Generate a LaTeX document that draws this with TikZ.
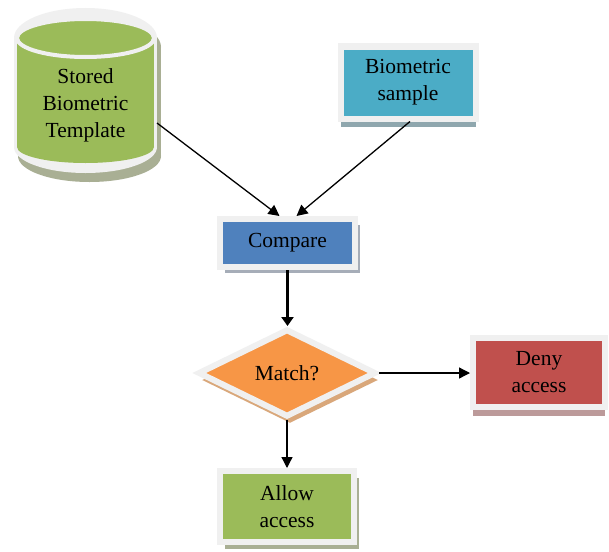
\documentclass[tikz,border=0pt]{standalone}
\usepackage{fontspec}
\setmainfont{Liberation Serif}
\usetikzlibrary{shapes.geometric,arrows.meta,shadows}
\definecolor{rim}{HTML}{F0F0F0}
\definecolor{cgreen}{HTML}{9BBB59}
\definecolor{cteal}{HTML}{4BACC6}
\definecolor{cblue}{HTML}{4F81BD}
\definecolor{corange}{HTML}{F79646}
\definecolor{cred}{HTML}{C0504D}
\definecolor{shteal}{HTML}{8FA7AE}
\definecolor{shblue}{HTML}{A6ADB8}
\definecolor{shred}{HTML}{BC9A9A}
\definecolor{shgreen}{HTML}{A9AF94}
\definecolor{shorange}{HTML}{D9A77A}
\begin{document}
\begin{tikzpicture}[x=1pt,y=-1pt,
  lbl/.style={font=\fontsize{21.5}{27}\selectfont, text=black, align=center},
  box/.style={lbl, rectangle, fill=#1, draw=rim, line width=6pt, inner sep=0pt},
  shad/.style n args={3}{drop shadow={shadow xshift=#1, shadow yshift=#2, fill=#3, opacity=1}},
  conn/.style={draw=black, line width=1.3pt, -{Triangle[length=11pt,width=11pt]}},
  thickconn/.style={draw=black, line width=3pt, -{Triangle[length=9pt,width=12pt]}}
]
\useasboundingbox (0,0) rectangle (609,551);
\fill[white] (0,0) rectangle (609,551);

% cylinder: shadow
\begin{scope}[shift={(4,9)}]
  \fill[shgreen] (85.5,38) ellipse [x radius=71.5, y radius=30];
  \fill[shgreen] (14,38) rectangle (157,147);
  \fill[shgreen] (85.5,147) ellipse [x radius=71.5, y radius=26];
\end{scope}
% cylinder: rim
\fill[rim] (85.5,38) ellipse [x radius=71.5, y radius=30];
\fill[rim] (14,38) rectangle (157,147);
\fill[rim] (85.5,147) ellipse [x radius=71.5, y radius=26];
% cylinder: body
\fill[cgreen] (85.5,38) ellipse [x radius=68.5, y radius=19];
\fill[cgreen] (17,38) rectangle (154,147);
\fill[cgreen] (85.5,147) ellipse [x radius=68.5, y radius=16];
\draw[rim, line width=4pt] (85.5,38) ellipse [x radius=68.5, y radius=19];
\node[lbl] (cyl) at (85.5,105) {Stored\\Biometric\\Template};
\coordinate (cylR) at (157,123);

% boxes
\node[box=cteal, minimum width=135pt, minimum height=72pt, shad={0pt}{-8pt}{shteal}] (sample) at (408,82.5) {Biometric\\sample};
\node[box=cblue, minimum width=135pt, minimum height=48pt, shad={5pt}{-6pt}{shblue}] (compare) at (287.5,243) {Compare};
\node[lbl, diamond, fill=corange, draw=rim, line width=6pt, inner sep=0pt, minimum width=178pt, minimum height=88pt, shad={3pt}{-7pt}{shorange}] (match) at (287,373) {Match?};
\node[box=cred, minimum width=132pt, minimum height=69pt, shad={0pt}{-9pt}{shred}] (deny) at (539,372.5) {Deny\\access};
\node[box=cgreen, minimum width=134pt, minimum height=71pt, shad={5pt}{-7pt}{shgreen}] (allow) at (287,506.5) {Allow\\access};

% connectors
\draw[conn] (cylR) -- ([xshift=-8pt]compare.north);
\draw[conn] ([xshift=2pt]sample.south) -- ([xshift=9pt]compare.north);
\draw[thickconn] (compare.south) -- (compare.south |- match.north);
\draw[conn] (match.east) -- (match.east -| deny.west);
\draw[conn] (match.south) -- (allow.north);
\end{tikzpicture}
\end{document}
